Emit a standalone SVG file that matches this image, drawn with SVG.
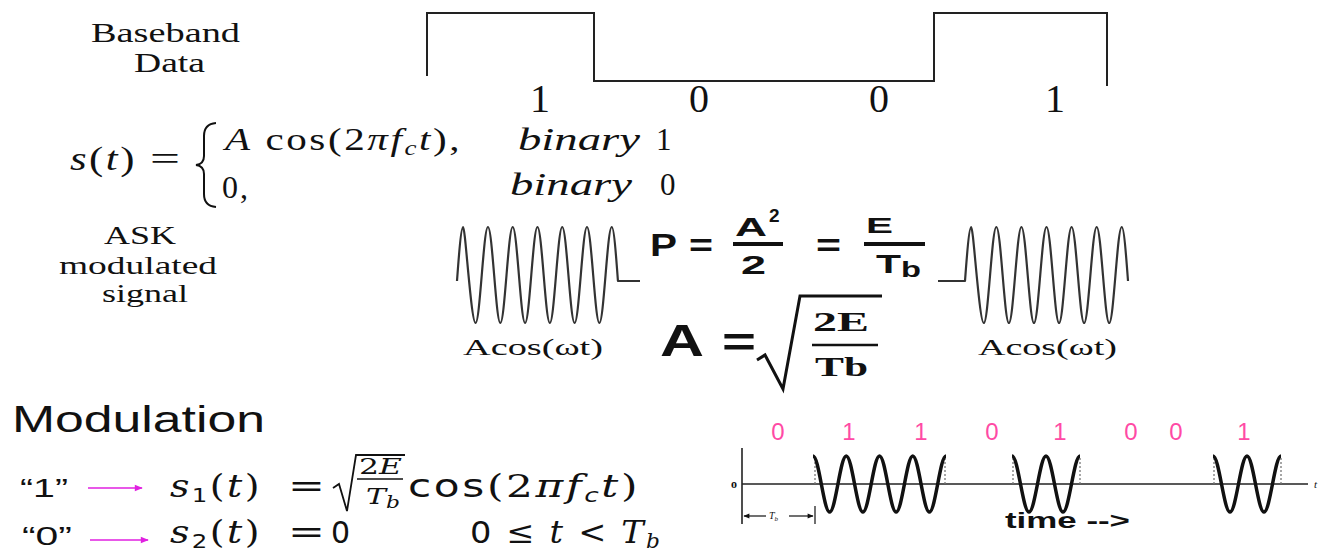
<svg xmlns="http://www.w3.org/2000/svg" width="1325" height="552" viewBox="0 0 1325 552">
<defs>
<marker id="mag" viewBox="0 0 10 10" refX="9" refY="5" markerWidth="9" markerHeight="8" orient="auto" markerUnits="userSpaceOnUse"><path d="M0,1 L10,5 L0,9 z" fill="#e020e0"/></marker>
<marker id="blk" viewBox="0 0 10 10" refX="9" refY="5" markerWidth="7" markerHeight="6" orient="auto" markerUnits="userSpaceOnUse"><path d="M0,1 L10,5 L0,9 z" fill="#111"/></marker>
</defs>
<style>
.tm{font-family:"Liberation Serif","Times New Roman",serif;fill:#111}
.sn{font-family:"Liberation Sans",Arial,sans-serif;fill:#111}
.mt{font-family:"DejaVu Serif","Liberation Serif",serif;fill:#111}
.ms{font-family:"DejaVu Sans","Liberation Sans",sans-serif}
.it{font-style:italic}
.bd{font-weight:bold}
.ls{letter-spacing:2px}
.wave{fill:none;stroke:#333;stroke-width:2.2;stroke-linejoin:round}
.burst{fill:none;stroke:#111;stroke-width:3.5}
.edge{stroke:#777;stroke-width:1.3;stroke-dasharray:2 2}
.line{fill:none;stroke:#222;stroke-width:2}
.pink{fill:#ff4aa5;font-family:"Liberation Sans",Arial,sans-serif;font-size:24px;text-anchor:middle}
.arrow{stroke:#e020e0;stroke-width:1.6;fill:none}
</style>
<rect width="1325" height="552" fill="#fff"/>

<g id="baseband-label">
<text class="tm" x="91" y="42" font-size="28" textLength="149" lengthAdjust="spacingAndGlyphs">Baseband</text>
<text class="tm" x="134" y="72" font-size="28" textLength="71" lengthAdjust="spacingAndGlyphs">Data</text>
</g>

<g id="baseband-wave">
<path class="line" d="M427,76 L427,13 L594,13 L594,81 L934,81 L934,13 L1107,13 L1107,86"/>
<text class="tm" x="540" y="112" font-size="40" text-anchor="middle">1</text>
<text class="tm" x="699" y="112" font-size="40" text-anchor="middle">0</text>
<text class="tm" x="879" y="112" font-size="40" text-anchor="middle">0</text>
<text class="tm" x="1055" y="112" font-size="40" text-anchor="middle">1</text>
</g>

<g id="ask-definition">
<text class="tm ls" x="70" y="170" font-size="34" textLength="67" lengthAdjust="spacingAndGlyphs"><tspan class="it">s</tspan>(<tspan class="it">t</tspan>)</text>
<text class="tm" x="150" y="170" font-size="34" textLength="30" lengthAdjust="spacingAndGlyphs">=</text>
<path d="M216,123 Q204,124 204,136 L204,156 Q204,164 196,165 Q204,166 204,174 L204,194 Q204,206 216,207" fill="none" stroke="#111" stroke-width="2"/>
<text class="tm ls" x="225" y="150" font-size="32" textLength="237" lengthAdjust="spacingAndGlyphs"><tspan class="it">A</tspan> cos(2<tspan class="it">πf</tspan><tspan class="it" font-size="21" dy="5">c</tspan><tspan class="it" dy="-5">t</tspan>),</text>
<text class="tm" x="222" y="198" font-size="32" textLength="26" lengthAdjust="spacing">0,</text>
<text class="tm it" x="518" y="150" font-size="32" textLength="122" lengthAdjust="spacingAndGlyphs">binary</text>
<text class="tm" x="656" y="150" font-size="31">1</text>
<text class="tm it" x="510" y="195" font-size="32" textLength="122" lengthAdjust="spacingAndGlyphs">binary</text>
<text class="tm" x="660" y="195" font-size="31">0</text>
</g>

<g id="ask-label">
<text class="tm" x="140" y="244" font-size="26" text-anchor="middle" textLength="72" lengthAdjust="spacingAndGlyphs">ASK</text>
<text class="tm" x="138" y="274" font-size="26" text-anchor="middle" textLength="158" lengthAdjust="spacingAndGlyphs">modulated</text>
<text class="tm" x="145" y="302" font-size="26" text-anchor="middle" textLength="86" lengthAdjust="spacingAndGlyphs">signal</text>
</g>

<g id="carrier-left">
<path class="wave" d="M457,281 C459.06,252.7 461.13,227 463.19,227 S471.11,323 475.57,323 S483.49,227 487.95,227 S495.87,323 500.33,323 S508.25,227 512.71,227 S520.63,323 525.09,323 S533.01,227 537.47,227 S545.39,323 549.85,323 S557.77,227 562.23,227 S570.15,323 574.61,323 S582.53,227 586.99,227 S594.91,323 599.37,323 S607.29,227 611.75,227 C613.81,227 615.88,252.7 617.94,281 L640,281"/>
<text class="tm" x="463" y="355" font-size="24" textLength="140" lengthAdjust="spacingAndGlyphs">Acos(ωt)</text>
</g>

<g id="carrier-right">
<path class="wave" d="M938,281 L965,281 C967.09,252.7 969.18,227 971.27,227 S979.30,323 983.81,323 S991.84,227 996.35,227 S1004.38,323 1008.89,323 S1016.92,227 1021.43,227 S1029.46,323 1033.97,323 S1042.00,227 1046.51,227 S1054.54,323 1059.05,323 S1067.08,227 1071.59,227 S1079.62,323 1084.13,323 S1092.16,227 1096.67,227 S1104.70,323 1109.21,323 S1117.24,227 1121.75,227 C1123.84,227 1125.93,252.7 1128.02,281"/>
<text class="tm" x="978" y="355" font-size="24" textLength="139" lengthAdjust="spacingAndGlyphs">Acos(ωt)</text>
</g>

<g id="power-formula">
<text class="sn bd" x="650" y="256" font-size="32" textLength="27" lengthAdjust="spacingAndGlyphs">P</text>
<text class="sn bd" x="689" y="256" font-size="32" textLength="24" lengthAdjust="spacingAndGlyphs">=</text>
<text class="sn bd" x="735" y="236" font-size="26" textLength="32" lengthAdjust="spacingAndGlyphs">A</text>
<text class="sn bd" x="769" y="222" font-size="19">2</text>
<line x1="733" y1="244" x2="783" y2="244" stroke="#111" stroke-width="4"/>
<text class="sn bd" x="741" y="274" font-size="26" textLength="25" lengthAdjust="spacingAndGlyphs">2</text>
<text class="sn bd" x="816" y="256" font-size="32" textLength="25" lengthAdjust="spacingAndGlyphs">=</text>
<text class="sn bd" x="866" y="233" font-size="22" textLength="27" lengthAdjust="spacingAndGlyphs">E</text>
<line x1="864" y1="244" x2="925" y2="244" stroke="#111" stroke-width="4"/>
<text class="sn bd" x="876" y="273" font-size="26" textLength="25" lengthAdjust="spacingAndGlyphs">T</text>
<text class="sn bd" x="901" y="277" font-size="22" textLength="20" lengthAdjust="spacingAndGlyphs" fill="#222">b</text>
</g>

<g id="amplitude-formula">
<text class="sn bd" x="660" y="356" font-size="44" textLength="44" lengthAdjust="spacingAndGlyphs">A</text>
<text class="sn bd" x="722" y="356" font-size="40" textLength="34" lengthAdjust="spacingAndGlyphs">=</text>
<path d="M757,360 L765,355 L783,389 L800,296 L882,296" fill="none" stroke="#111" stroke-width="3" stroke-linejoin="miter"/>
<text class="tm bd" x="813" y="331" font-size="28" textLength="56" lengthAdjust="spacingAndGlyphs">2E</text>
<line x1="812" y1="345" x2="878" y2="345" stroke="#111" stroke-width="2.5"/>
<text class="tm bd" x="815" y="376" font-size="28" textLength="53" lengthAdjust="spacingAndGlyphs">Tb</text>
</g>

<g id="modulation-title">
<text class="sn" x="12" y="432" font-size="36" textLength="253" lengthAdjust="spacingAndGlyphs">Modulation</text>
</g>

<g id="symbol-one">
<text class="sn" x="20" y="497" font-size="25" textLength="48" lengthAdjust="spacingAndGlyphs">“1”</text>
<text class="mt ls" x="170" y="497" font-size="31" textLength="92" lengthAdjust="spacingAndGlyphs"><tspan class="it">s</tspan><tspan class="ms" font-size="20" dy="5">1</tspan><tspan dy="-5">(</tspan><tspan class="it">t</tspan>)</text>
<text class="mt" x="288" y="497" font-size="31" textLength="37" lengthAdjust="spacingAndGlyphs">=</text>
<path d="M333,488 L339,484 L347,511 L356,455 L405,455" fill="none" stroke="#111" stroke-width="1.8"/>
<text class="mt it" x="359" y="474" font-size="22" textLength="43" lengthAdjust="spacingAndGlyphs"><tspan font-style="normal">2</tspan>E</text>
<line x1="357" y1="479" x2="403" y2="479" stroke="#111" stroke-width="1.6"/>
<text class="mt it" x="366" y="504" font-size="22" textLength="34" lengthAdjust="spacingAndGlyphs">T<tspan font-size="16" dy="4">b</tspan></text>
<text class="mt ls" x="408" y="497" font-size="32" textLength="232" lengthAdjust="spacingAndGlyphs"><tspan class="ms">cos</tspan>(2<tspan class="it">π</tspan><tspan class="it">f</tspan><tspan class="ms it" font-size="20" dy="5">c</tspan><tspan class="it" dy="-5">t</tspan>)</text>
</g>

<g id="symbol-zero">
<text class="sn" x="22" y="545" font-size="25" textLength="50" lengthAdjust="spacingAndGlyphs">“0”</text>
<text class="mt ls" x="170" y="543" font-size="31" textLength="92" lengthAdjust="spacingAndGlyphs"><tspan class="it">s</tspan><tspan class="ms" font-size="20" dy="5">2</tspan><tspan dy="-5">(</tspan><tspan class="it">t</tspan>)</text>
<text class="mt" x="288" y="543" font-size="31" textLength="37" lengthAdjust="spacingAndGlyphs">=</text>
<text class="ms" x="331" y="543" font-size="30" fill="#111">0</text>
<text class="mt ls" x="470" y="543" font-size="31" textLength="192" lengthAdjust="spacingAndGlyphs"><tspan class="ms">0</tspan> ≤ <tspan class="it">t</tspan> &lt; <tspan class="it">T</tspan><tspan class="it" font-size="20" dy="5">b</tspan></text>
</g>

<g id="ask-waveform">
<text class="pink" x="778" y="440">0</text>
<text class="pink" x="849" y="440">1</text>
<text class="pink" x="921" y="440">1</text>
<text class="pink" x="992" y="440">0</text>
<text class="pink" x="1060" y="440">1</text>
<text class="pink" x="1131" y="440">0</text>
<text class="pink" x="1176" y="440">0</text>
<text class="pink" x="1244" y="440">1</text>
<line x1="742" y1="448" x2="742" y2="524" stroke="#222" stroke-width="1.6"/>
<line x1="742" y1="484" x2="1308" y2="484" stroke="#222" stroke-width="1.6"/>
<text class="tm bd" x="731" y="488" font-size="12">o</text>
<text class="tm it" x="1314" y="488" font-size="11">t</text>
<line x1="815" y1="506" x2="815" y2="524" stroke="#222" stroke-width="1.3"/>
<line x1="766" y1="516" x2="744" y2="516" stroke="#222" stroke-width="1.3" marker-end="url(#blk)"/>
<line x1="789" y1="516" x2="813" y2="516" stroke="#222" stroke-width="1.3" marker-end="url(#blk)"/>
<text class="tm it" x="769" y="519" font-size="10">T<tspan font-size="7" dy="2">b</tspan></text>
<line class="edge" x1="815" y1="458" x2="815" y2="484"/>
<line class="edge" x1="945" y1="458" x2="945" y2="484"/>
<line class="edge" x1="1013" y1="458" x2="1013" y2="484"/>
<line class="edge" x1="1080" y1="458" x2="1080" y2="484"/>
<line class="edge" x1="1214" y1="458" x2="1214" y2="484"/>
<line class="edge" x1="1281" y1="458" x2="1281" y2="484"/>
<path class="burst" d="M813,456 C818.99,456 823.64,512 829.63,512 S840.27,456 846.25,456 S856.89,512 862.88,512 S873.52,456 879.5,456 S890.14,512 896.13,512 S906.77,456 912.75,456 S923.39,512 929.38,512 S940.02,456 946,456"/>
<path class="burst" d="M1012,456 C1018.12,456 1022.88,512 1029,512 S1039.88,456 1046,456 S1056.88,512 1063,512 S1073.88,456 1080,456"/>
<path class="burst" d="M1213,456 C1219.12,456 1223.88,512 1230,512 S1240.88,456 1247,456 S1257.88,512 1264,512 S1274.88,456 1281,456"/>
<text class="sn bd" x="1005" y="528" font-size="22" textLength="125" lengthAdjust="spacingAndGlyphs">time --&gt;</text>
</g>

<g id="connectors">
<line class="arrow" x1="88" y1="488" x2="142" y2="488" marker-end="url(#mag)"/>
<line class="arrow" x1="90" y1="540" x2="148" y2="540" marker-end="url(#mag)"/>
</g>
</svg>
